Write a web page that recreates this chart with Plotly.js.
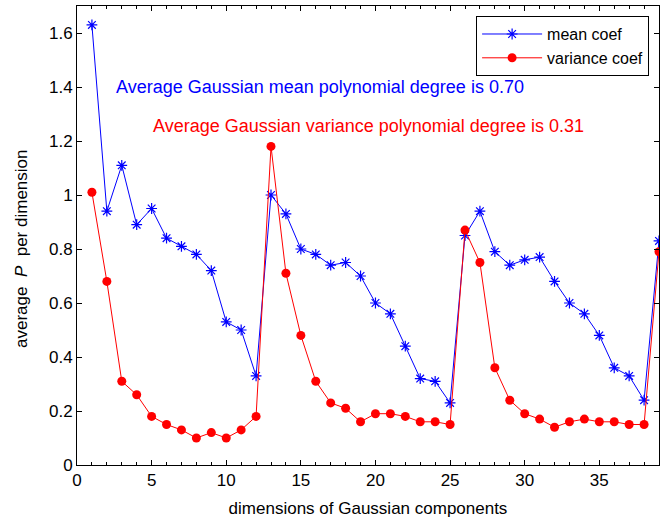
<!DOCTYPE html>
<html>
<head>
<meta charset="utf-8">
<script src="https://cdn.plot.ly/plotly-3.0.1.min.js"></script>
<style>
  html, body { margin: 0; padding: 0; background: #fff; }
  #chart { width: 671px; height: 520px; }
</style>
</head>
<body>
<div id="chart"></div>
<script>
// Dimension index of the Gaussian components
const dims = [];
for (let d = 1; d <= 39; d++) dims.push(d);

// Average polynomial degree P of the mean coefficients
const meanCoef = [
  1.63, 0.94, 1.11, 0.89, 0.95, 0.84, 0.81, 0.78, 0.72, 0.53,
  0.50, 0.33, 1.00, 0.93, 0.80, 0.78, 0.74, 0.75, 0.70, 0.60,
  0.56, 0.44, 0.32, 0.31, 0.23, 0.85, 0.94, 0.79, 0.74, 0.76,
  0.77, 0.68, 0.60, 0.56, 0.48, 0.36, 0.33, 0.24, 0.83
];

// Average polynomial degree P of the variance coefficients
const varianceCoef = [
  1.01, 0.68, 0.31, 0.26, 0.18, 0.15, 0.13, 0.10, 0.12, 0.10,
  0.13, 0.18, 1.18, 0.71, 0.48, 0.31, 0.23, 0.21, 0.16, 0.19,
  0.19, 0.18, 0.16, 0.16, 0.15, 0.87, 0.75, 0.36, 0.24, 0.19,
  0.17, 0.14, 0.16, 0.17, 0.16, 0.16, 0.15, 0.15, 0.79
];

const seriesNames = ['mean coef', 'variance coef'];
const summaryTexts = [
  'Average Gaussian mean polynomial degree is 0.70',
  'Average Gaussian variance polynomial degree is 0.31'
];

const FONT = 'Liberation Sans, Arial, sans-serif';

const traces = [
  {
    x: dims, y: meanCoef, name: seriesNames[0],
    type: 'scatter', mode: 'lines+markers',
    line: { color: '#0000ff', width: 1 },
    marker: { symbol: 'asterisk-open', size: 9, color: '#0000ff',
              line: { color: '#0000ff', width: 1.2 } }
  },
  {
    x: dims, y: varianceCoef, name: seriesNames[1],
    type: 'scatter', mode: 'lines+markers',
    line: { color: '#ff0000', width: 1 },
    marker: { symbol: 'circle', size: 9, color: '#ff0000' }
  }
];

const layout = {
  width: 671, height: 520,
  margin: { l: 77, r: 12, t: 6, b: 55 },
  paper_bgcolor: '#fff', plot_bgcolor: '#fff',
  font: { family: FONT, size: 17, color: '#000' },
  showlegend: true,
  legend: {
    x: 0.983, y: 0.978, xanchor: 'right', yanchor: 'top',
    bgcolor: '#fff', bordercolor: '#000', borderwidth: 1,
    font: { family: FONT, size: 16, color: '#000' },
    tracegroupgap: 0, itemwidth: 60
  },
  xaxis: {
    range: [0, 39], dtick: 5, tick0: 0,
    showgrid: false, zeroline: false,
    showline: true, linecolor: '#000', linewidth: 1, mirror: 'ticks',
    ticks: 'inside', ticklen: 5, tickcolor: '#000',
    minor: { dtick: 1, ticks: 'inside', ticklen: 3, tickcolor: '#000', showgrid: false },
    tickfont: { family: FONT, size: 17 },
    title: { text: 'dimensions of Gaussian components', standoff: 12,
             font: { family: FONT, size: 17 } }
  },
  yaxis: {
    range: [0, 1.7], dtick: 0.2, tick0: 0,
    showgrid: false, zeroline: false,
    showline: true, linecolor: '#000', linewidth: 1, mirror: 'ticks',
    ticks: 'inside', ticklen: 5, tickcolor: '#000',
    tickfont: { family: FONT, size: 17 }
  },
  annotations: [
    {
      text: 'average\u00a0\u00a0<i>P</i>\u00a0\u00a0per dimension',
      xref: 'paper', yref: 'paper', x: -0.095, y: 0.47,
      xanchor: 'center', yanchor: 'middle', textangle: -90,
      showarrow: false, font: { family: FONT, size: 17, color: '#000' }
    },
    {
      text: summaryTexts[0], x: 2.48, y: 1.40, xref: 'x', yref: 'y',
      xanchor: 'left', yanchor: 'middle', showarrow: false,
      font: { family: FONT, size: 18, color: '#0000ff' }
    },
    {
      text: summaryTexts[1], x: 4.96, y: 1.256, xref: 'x', yref: 'y',
      xanchor: 'left', yanchor: 'middle', showarrow: false,
      font: { family: FONT, size: 18, color: '#ff0000' }
    }
  ]
};

Plotly.newPlot('chart', traces, layout, { displayModeBar: false, staticPlot: true });
</script>
</body>
</html>
